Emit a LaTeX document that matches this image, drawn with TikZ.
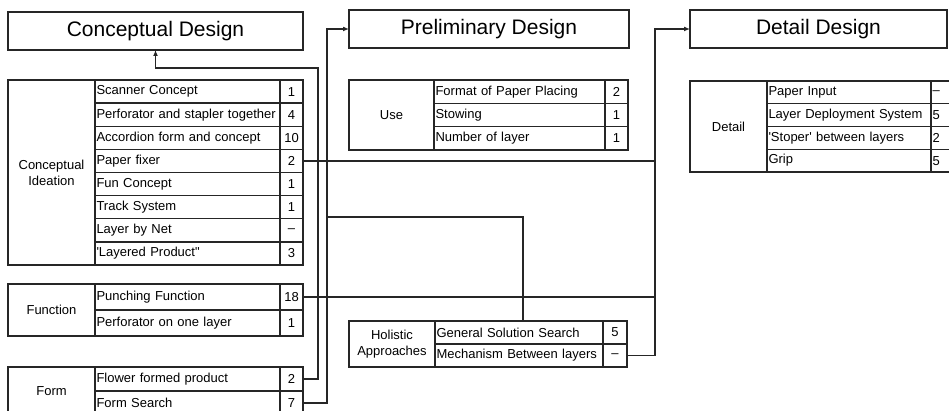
\documentclass[tikz,border=0pt]{standalone}
\usepackage{fontspec}
\setmainfont{Liberation Sans}
\usetikzlibrary{arrows.meta}
\newcommand\tcell[7]{% name, x, y, w, h, align, text
  \pgfmathsetmacro\tcw{#4-3}%
  \node[cellbox, minimum width=#4pt, minimum height=#5pt, text width=\tcw pt, align=#6] (#1) at (#2,#3) {#7};}
\begin{document}
\begin{tikzpicture}[x=1pt,y=-1pt,
  ln/.style={line width=1.4pt, draw=black!85},
  cellbox/.style={ln, anchor=north west, inner xsep=1.5pt, inner ysep=0pt, outer sep=0pt,
    font=\fontsize{13}{16}\selectfont, text=black},
  titlebox/.style={ln, anchor=north west, inner sep=0pt, outer sep=0pt,
    font=\fontsize{21}{24}\selectfont, text=black},
  conn/.style={line width=1.4pt, draw=black!85},
  arr/.style={-{Latex[length=6pt,width=5pt]}}]
\useasboundingbox (0,0) rectangle (949,411);
\clip (0,0) rectangle (949,411);

% title boxes
\node[titlebox, minimum width=295pt, minimum height=38pt] (cd) at (8,12) {Conceptual Design};
\node[titlebox, minimum width=280pt, minimum height=38pt] (pd) at (349,10) {Preliminary Design};
\node[titlebox, minimum width=257pt, minimum height=38pt] (dd) at (690,10) {Detail Design};

% Conceptual Ideation
\tcell{ci}{8}{80}{87}{185}{center}{Conceptual\\Ideation}
\foreach \t/\n [count=\i from 0] in {Scanner Concept/1, Perforator and stapler together/4,
  Accordion form and concept/10, Paper fixer/2, Fun Concept/1, Track System/1,
  Layer by Net/\textendash, \textquotesingle Layered Product\textquotedbl/3}{
  \pgfmathsetmacro\yy{80+23.125*\i}
  \tcell{cim\i}{95}{\yy}{185}{23.125}{left}{\t}
  \tcell{cin\i}{280}{\yy}{23}{23.125}{center}{\n}
}

% Function
\tcell{fu}{8}{284}{87}{52}{center}{Function}
\tcell{fum0}{95}{284}{185}{26}{left}{Punching Function}
\tcell{fun0}{280}{284}{23}{26}{center}{18}
\tcell{fum1}{95}{310}{185}{26}{left}{Perforator on one layer}
\tcell{fun1}{280}{310}{23}{26}{center}{1}

% Form
\tcell{fo}{8}{367}{87}{48}{center}{Form}
\tcell{fom0}{95}{367}{185}{24}{left}{Flower formed product}
\tcell{fon0}{280}{367}{23}{24}{center}{2}
\tcell{fom1}{95}{391}{185}{24}{left}{Form Search}
\tcell{fon1}{280}{391}{23}{24}{center}{7}

% Use
\tcell{us}{349}{80}{85}{70}{center}{Use}
\foreach \t/\n [count=\i from 0] in {Format of Paper Placing/2, Stowing/1, Number of layer/1}{
  \pgfmathsetmacro\yy{80+23.333*\i}
  \tcell{usm\i}{434}{\yy}{171}{23.333}{left}{\t}
  \tcell{usn\i}{605}{\yy}{23}{23.333}{center}{\n}
}

% Holistic Approaches
\tcell{ho}{349}{321}{86}{46}{center}{Holistic\\Approaches}
\tcell{hom0}{435}{321}{168}{23}{left}{General Solution Search}
\tcell{hon0}{603}{321}{24}{23}{center}{5}
\tcell{hom1}{435}{344}{168}{23}{left}{Mechanism Between layers}
\tcell{hon1}{603}{344}{24}{23}{center}{\textendash}

% Detail
\tcell{de}{690}{81}{77}{91}{center}{Detail}
\foreach \t/\n [count=\i from 0] in {Paper Input/\textendash, Layer Deployment System/5,
  \textquotesingle Stoper\textquotesingle\ between layers/2, Grip/5}{
  \pgfmathsetmacro\yy{81+22.75*\i}
  \tcell{dem\i}{767}{\yy}{164}{22.75}{left}{\t}
  \tcell{den\i}{931}{\yy}{24}{22.75}{left}{\n}
}

% connectors
\coordinate (j1) at (318,68);
\coordinate (j2) at (327,29);
\coordinate (j3) at (327,217);
\coordinate (j4) at (655,29);
\draw[conn, arr] (fon0.east) -| (j1) -| (cd.south);
\draw[conn, arr] (fon1.east) -| (j2) -- (pd.west);
\draw[conn] ([xshift=4pt]hom0.north) |- (j3);
\draw[conn, arr] (hon1.east) -| (j4) -- (dd.west);
\draw[conn] (cin3.east) -- (cin3.east -| j4);
\draw[conn] (fun0.east) -- (fun0.east -| j4);
\end{tikzpicture}
\end{document}
